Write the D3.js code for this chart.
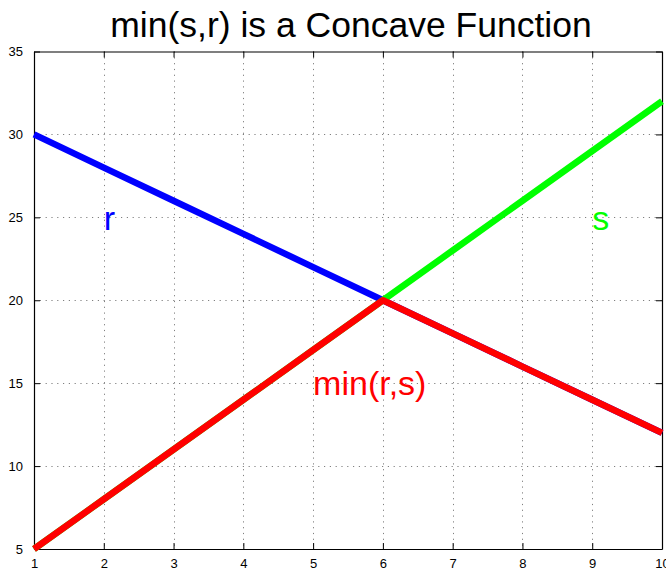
<!DOCTYPE html>
<html>
<head>
<meta charset="utf-8">
<script src="https://cdn.jsdelivr.net/npm/d3@7/dist/d3.min.js"></script>
<style>
  html, body { margin: 0; padding: 0; background: #fff; }
  svg { display: block; font-family: "Liberation Sans", Arial, Helvetica, sans-serif; }
</style>
</head>
<body>
<svg id="chart" width="666" height="570"></svg>
<script>
// Sample points and the two linear functions r(x), s(x) and their minimum
const xValues   = [1, 2, 3, 4, 5, 6, 7, 8, 9, 10];
const rValues   = [30, 28, 26, 24, 22, 20, 18, 16, 14, 12];
const sValues   = [5, 8, 11, 14, 17, 20, 23, 26, 29, 32];
const minValues = [5, 8, 11, 14, 17, 20, 18, 16, 14, 12];

const xTicks = [1, 2, 3, 4, 5, 6, 7, 8, 9, 10];
const yTicks = [5, 10, 15, 20, 25, 30, 35];

const titleText = "min(s,r) is a Concave Function";
// Curve annotations: [text, x, y, colour]
const labels = [
  ["r", 2, 25, "#0000ff"],
  ["s", 9, 25, "#00ff00"],
  ["min(r,s)", 5, 15, "#ff0000"]
];

const svg = d3.select("#chart");
const plot = { left: 34, right: 662, top: 51.5, bottom: 549 };

const x = d3.scaleLinear().domain([1, 10]).range([plot.left, plot.right]);
const y = d3.scaleLinear().domain([5, 35]).range([plot.bottom, plot.top]);

// Dotted grid
const grid = svg.append("g").attr("stroke", "#808080").attr("stroke-width", 1)
  .attr("stroke-dasharray", "1.2,4.6");
grid.selectAll(".gx").data(xTicks.slice(1, -1)).join("line")
  .attr("x1", d => Math.round(x(d)) + 0.5).attr("x2", d => Math.round(x(d)) + 0.5)
  .attr("y1", plot.top).attr("y2", plot.bottom);
grid.selectAll(".gy").data(yTicks.slice(1, -1)).join("line")
  .attr("y1", d => Math.round(y(d)) + 0.5).attr("y2", d => Math.round(y(d)) + 0.5)
  .attr("x1", plot.left).attr("x2", plot.right);

// Axes with inward ticks on all four sides
const tickLen = 6;
const fmt = d3.format("d");
const axisStyle = g => {
  g.select(".domain").attr("stroke", "#000").attr("stroke-width", 1.2);
  g.selectAll(".tick line").attr("stroke", "#000");
  g.selectAll(".tick text").attr("fill", "#000").attr("font-size", 13)
    .attr("font-family", "Liberation Sans, Arial, sans-serif");
};
svg.append("g").attr("transform", `translate(0,${plot.bottom})`)
  .call(d3.axisBottom(x).tickValues(xTicks).tickFormat(fmt).tickSizeInner(-tickLen).tickSizeOuter(0).tickPadding(10))
  .call(axisStyle);
svg.append("g").attr("transform", `translate(0,${plot.top})`)
  .call(d3.axisTop(x).tickValues(xTicks).tickFormat("").tickSizeInner(-tickLen).tickSizeOuter(0))
  .call(axisStyle);
svg.append("g").attr("transform", `translate(${plot.left},0)`)
  .call(d3.axisLeft(y).tickValues(yTicks).tickFormat(fmt).tickSizeInner(-tickLen).tickSizeOuter(0).tickPadding(11))
  .call(axisStyle);
svg.append("g").attr("transform", `translate(${plot.right},0)`)
  .call(d3.axisRight(y).tickValues(yTicks).tickFormat("").tickSizeInner(-tickLen).tickSizeOuter(0))
  .call(axisStyle);

// Curves: r and s first, their minimum drawn on top
const line = d3.line().x((d, i) => x(xValues[i])).y(d => y(d));
const series = [
  [rValues, "#0000ff"],
  [sValues, "#00ff00"],
  [minValues, "#ff0000"]
];
svg.append("g").selectAll("path").data(series).join("path")
  .attr("d", d => line(d[0]))
  .attr("fill", "none")
  .attr("stroke", d => d[1])
  .attr("stroke-width", 6.5)
  .attr("stroke-linejoin", "round");

// Annotations
svg.append("g").selectAll("text").data(labels).join("text")
  .attr("x", d => x(d[1]))
  .attr("y", d => y(d[2]))
  .attr("dy", "0.36em")
  .attr("fill", d => d[3])
  .attr("font-size", 34)
  .text(d => d[0]);

// Title
svg.append("text")
  .attr("x", 351).attr("y", 37)
  .attr("text-anchor", "middle")
  .attr("font-size", 35.5)
  .attr("fill", "#000")
  .text(titleText);
</script>
</body>
</html>
